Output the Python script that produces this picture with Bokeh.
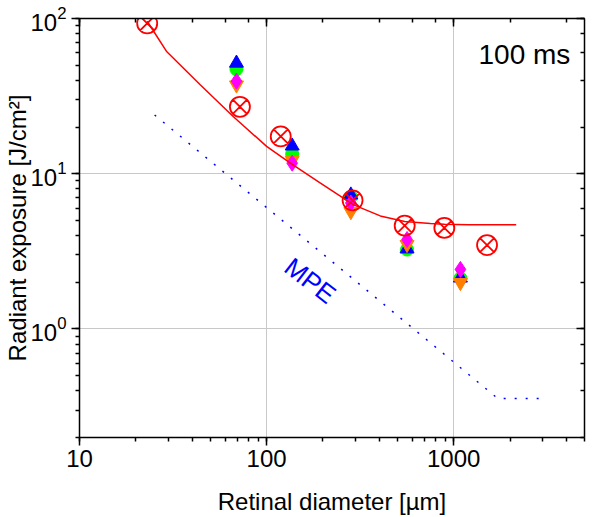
from bokeh.plotting import figure
from bokeh.models import LogAxis, Label, NumeralTickFormatter, CustomJSTickFormatter
from bokeh.embed import file_html
from bokeh.resources import INLINE

FONT = "Liberation Sans"

# Open red circles with X (measured values)
red_d = [23, 72, 119, 288, 547, 891, 1507]
red_h = [93, 27, 17.4, 6.74, 4.63, 4.48, 3.47]

# Red fit curve
fit_d = [23, 29.3, 44.3, 66.5, 100, 134, 194, 292, 405, 547, 750, 891, 1200, 2157]
fit_h = [96, 61, 37.3, 23.3, 15.0, 11.7, 8.7, 6.3, 5.35, 4.92, 4.78, 4.72, 4.70, 4.70]

# Blue dotted MPE curve
mpe_d = [25.2, 1718, 2958]
mpe_h = [23.9, 0.357, 0.357]

# Coloured series at each retinal diameter
grp_d = [69, 137, 282, 563, 1086]
blue_h = [51.6, 15.1, 7.3, 3.28, 2.13]
green_h = [47.2, 13.4, 7.1, 3.25, 2.12]
orange_h = [37.3, 12.2, 5.7, 3.50, 1.99]
magenta_h = [39.5, 11.7, 6.48, 3.77, 2.42]

p = figure(width=592, height=517, x_axis_type="log", y_axis_type="log",
           x_range=(10, 5000), y_range=(0.2, 100),
           output_backend="svg", toolbar_location=None,
           min_border_left=79, min_border_right=8, min_border_top=18, min_border_bottom=78)
p.outline_line_color = None
p.background_fill_color = "white"
p.border_fill_color = "white"

left = p.left[0]
bottom = p.below[0]
for ax in (left, bottom):
    ax.axis_line_width = 1.5
    ax.axis_line_color = "black"
    ax.major_tick_in = 0
    ax.major_tick_out = 8
    ax.minor_tick_in = 0
    ax.minor_tick_out = 4
    ax.major_tick_line_width = 1.5
    ax.minor_tick_line_width = 1.5
    ax.major_tick_line_color = "black"
    ax.minor_tick_line_color = "black"
    ax.major_label_text_font = FONT
    ax.major_label_text_font_size = "24px"
    ax.major_label_text_color = "black"
    ax.axis_label_text_font = FONT
    ax.axis_label_text_font_size = "24px"
    ax.axis_label_text_font_style = "normal"
    ax.axis_label_text_color = "black"

bottom.formatter = NumeralTickFormatter(format="0")
bottom.axis_label = "Retinal diameter [µm]"
bottom.major_label_standoff = 4
bottom.axis_label_standoff = 18
left.axis_label = "Radiant exposure [J/cm²]"
left.major_label_standoff = 5
left.axis_label_standoff = -4

for loc in ("above", "right"):
    ax = LogAxis(axis_line_width=1.5, axis_line_color="black",
                 major_tick_in=8, major_tick_out=0, minor_tick_in=4, minor_tick_out=0,
                 major_tick_line_width=1.5, minor_tick_line_width=1.5,
                 formatter=CustomJSTickFormatter(code="return ''"),
                 major_label_text_font_size="1px", major_label_standoff=0)
    p.add_layout(ax, loc)

p.xgrid.grid_line_color = "#c8c8c8"
p.ygrid.grid_line_color = "#c8c8c8"
p.xgrid.grid_line_width = 1
p.ygrid.grid_line_width = 1

p.line(mpe_d, mpe_h, line_color="blue", line_width=1.5, line_dash="2 9")

p.scatter(grp_d, green_h, marker="circle", size=13, fill_color="#00FF00", line_color="#00FF00")
p.scatter(grp_d, blue_h, marker="triangle", size=14, fill_color="#0000FF", line_color="#0000FF")
p.scatter(grp_d, orange_h, marker="inverted_triangle", size=14, fill_color="#FF8000", line_color="#FF8000")
p.scatter(grp_d, magenta_h, marker="diamond", size=16, fill_color="#FF00FF", line_color="#FF00FF")

p.line(fit_d, fit_h, line_color="red", line_width=1.5)
p.scatter(red_d, red_h, marker="circle_x", size=20, fill_color=None, line_color="red", line_width=1.8)

p.add_layout(Label(x=4200, y=59, text="100 ms", text_align="right", text_baseline="alphabetic",
                   text_font=FONT, text_font_size="28px", text_color="black"))
p.add_layout(Label(x=171, y=2.05, text="MPE", angle=-0.66, text_align="center", text_baseline="middle",
                   text_font=FONT, text_font_size="26px", text_color="blue"))

open("out.html", "w").write(file_html(p, INLINE))
